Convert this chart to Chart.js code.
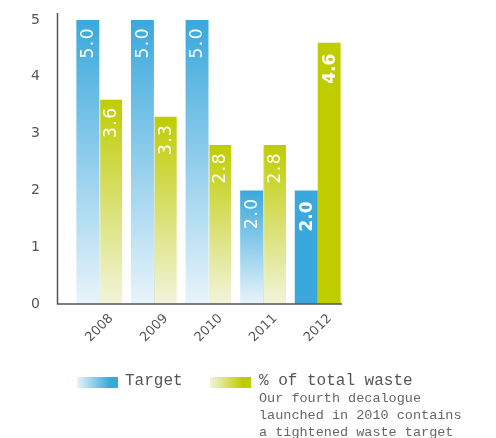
<!DOCTYPE html>
<html>
<head>
<meta charset="utf-8">
<script src="https://cdn.jsdelivr.net/npm/chart.js@4/dist/chart.umd.min.js"></script>
<style>
  html, body { margin: 0; padding: 0; background: #fff; }
  #wrap { position: relative; width: 496px; height: 438px; }
  #chart { position: absolute; left: 0; top: 0; }
  .key { position: absolute; font-family: "Liberation Mono", monospace; color: #555; }
  .swatch { position: absolute; width: 41px; height: 11px; }
  .key__label { font-size: 16px; line-height: 16px; }
  .key__note { font-size: 13.5px; line-height: 17px; color: #666; margin-top: 1px; }
</style>
</head>
<body>
<div id="wrap">
  <canvas id="chart" width="496" height="438"></canvas>
  <div class="swatch" style="left:77px; top:377px; background: linear-gradient(to right, #e8f4fb, #3aa8dc 80%);"></div>
  <div class="key" style="left:125px; top:373px;"><div class="key__label">Target</div></div>
  <div class="swatch" style="left:210px; top:377px; background: linear-gradient(to right, #f2f4dc, #bfcc00 80%);"></div>
  <div class="key" style="left:259px; top:373px;">
    <div class="key__label">% of total waste</div>
    <div class="key__note">Our fourth decalogue<br>launched in 2010 contains<br>a tightened waste target</div>
  </div>
</div>
<script>
const years = ["2008", "2009", "2010", "2011", "2012"];
const target = [5.0, 5.0, 5.0, 2.0, 2.0];
const wasteShare = [3.6, 3.3, 2.8, 2.8, 4.6];
const yTicks = [0, 1, 2, 3, 4, 5];

// last year is drawn flat, earlier years fade out toward the axis
const SOLID_FROM = 4;

const BLUE = "#3aa8dc", BLUE_PALE = "#e8f4fb";
const GREEN = "#bfcc00", GREEN_PALE = "#f2f4dc";

function fadeFill(top, pale) {
  return (ctx) => {
    const chart = ctx.chart;
    if (!chart.chartArea || ctx.dataIndex >= SOLID_FROM) return top;
    const y = chart.scales.y;
    const v = ctx.dataset.data[ctx.dataIndex];
    const g = chart.ctx.createLinearGradient(0, y.getPixelForValue(v), 0, y.getPixelForValue(0));
    g.addColorStop(0, top);
    g.addColorStop(1, pale);
    return g;
  };
}

// axis lines sit a little left of the first bar group
const axisLines = {
  id: "axisLines",
  afterDraw(chart) {
    const { ctx, chartArea: a } = chart;
    const x0 = a.left - 14.5;
    const y0 = chart.scales.y.getPixelForValue(0);
    ctx.save();
    ctx.strokeStyle = "#555";
    ctx.lineWidth = 1.5;
    ctx.beginPath();
    ctx.moveTo(x0, a.top - 7);
    ctx.lineTo(x0, y0);
    ctx.lineTo(a.right - 3, y0);
    ctx.stroke();
    ctx.restore();
  },
};

// white values written upward inside each bar
const barValues = {
  id: "barValues",
  afterDatasetsDraw(chart) {
    const ctx = chart.ctx;
    ctx.save();
    ctx.fillStyle = "#fff";
    ctx.textAlign = "right";
    ctx.textBaseline = "middle";
    chart.data.datasets.forEach((ds, i) => {
      chart.getDatasetMeta(i).data.forEach((bar, j) => {
        const solid = j >= SOLID_FROM;
        ctx.font = (solid ? "bold " : "") + "17px 'DejaVu Sans', sans-serif";
        ctx.letterSpacing = solid ? "0px" : "1.5px";
        ctx.save();
        ctx.translate(bar.x, bar.y + (solid ? 11 : 7));
        ctx.rotate(-Math.PI / 2);
        ctx.fillText(ds.data[j].toFixed(1), 0, 1);
        ctx.restore();
      });
    });
    ctx.restore();
  },
};

new Chart(document.getElementById("chart"), {
  type: "bar",
  data: {
    labels: years,
    datasets: [
      {
        label: "Target",
        data: target,
        backgroundColor: fadeFill(BLUE, BLUE_PALE),
        borderWidth: 0,
      },
      {
        label: "% of total waste",
        data: wasteShare,
        backgroundColor: fadeFill(GREEN, GREEN_PALE),
        borderColor: "rgba(150,165,90,0.35)",
        borderWidth: (ctx) => ctx.dataIndex >= SOLID_FROM ? 0 : { left: 1, top: 0, right: 0, bottom: 0 },
        borderSkipped: false,
      },
    ],
  },
  options: {
    responsive: false,
    animation: false,
    layout: { padding: { left: 0, top: 20, right: 151, bottom: 0 } },
    datasets: { bar: { categoryPercentage: 0.84, barPercentage: 1 } },
    plugins: { legend: { display: false }, tooltip: { enabled: false } },
    scales: {
      x: {
        grid: { display: false, drawTicks: false },
        border: { display: false },
        ticks: {
          maxRotation: 45,
          minRotation: 45,
          labelOffset: 12,
          padding: 7,
          color: "#555",
          font: { family: "'DejaVu Sans', sans-serif", size: 13 },
        },
        afterFit: (s) => { s.height = 134; s.paddingLeft = 0; s.paddingRight = 0; },
      },
      y: {
        min: 0,
        max: 5,
        grid: { display: false, drawTicks: false },
        border: { display: false },
        afterBuildTicks: (s) => { s.ticks = yTicks.map((v) => ({ value: v })); },
        ticks: {
          padding: 32,
          color: "#555",
          font: { family: "'DejaVu Sans', sans-serif", size: 14 },
        },
        afterFit: (s) => { s.width = 72; s.paddingTop = 0; s.paddingBottom = 0; },
      },
    },
  },
  plugins: [axisLines, barValues],
});
</script>
</body>
</html>
